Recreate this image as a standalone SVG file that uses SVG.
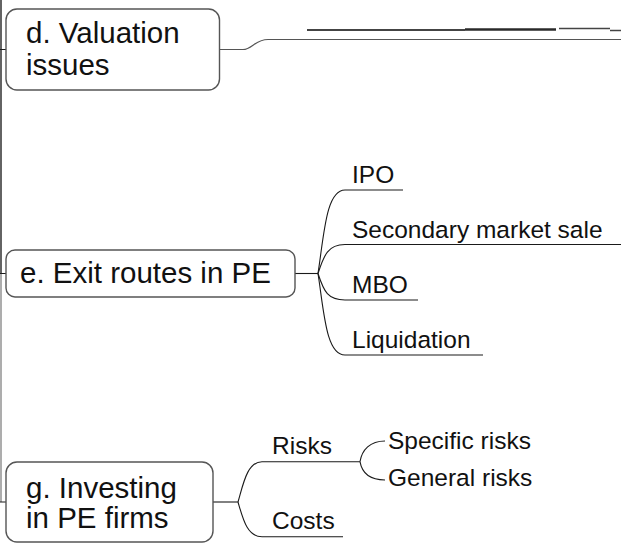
<svg xmlns="http://www.w3.org/2000/svg" width="621" height="550" viewBox="0 0 621 550">
  <style>
    .box { fill: #ffffff; stroke: #555555; stroke-width: 1.4; }
    .main { font-family: "Liberation Sans", Arial, sans-serif; font-size: 29.5px; fill: #111111; }
    .sub { font-family: "Liberation Sans", Arial, sans-serif; font-size: 24.5px; fill: #111111; }
    .link { fill: none; stroke: #1a1a1a; stroke-width: 1.1; }
    .stub { fill: none; stroke: #444444; stroke-width: 2; }
  </style>
  <rect width="621" height="550" fill="#ffffff"/>

  <g id="connectors">
    <!-- trunk on the left edge -->
    <path class="link" d="M1,0 V273" style="stroke:#222222;stroke-width:1.4"/>
    <path class="link" d="M1,273 V502" style="stroke:#8a8a8a;stroke-width:1.4"/>
    <path class="link" d="M0,49.5 H6 M0,273.5 H6 M0,502 H6"/>

    <!-- d. Valuation issues -->
    <path class="link" d="M220,49.5 H243 C252,49.5 255,39.5 268,39.5 H621" style="stroke:#555555"/>
    <path class="stub" d="M307,30 H465"/>
    <path class="stub" d="M465,29.5 H556" style="stroke:#2a2a2a;stroke-width:2.4"/>
    <path class="stub" d="M559,28.5 H610" style="stroke-width:1.5"/>
    <path class="stub" d="M610,30.5 H621" style="stroke-width:1.5"/>

    <!-- e. Exit routes in PE -->
    <path class="link" d="M295,273.5 H318"/>
    <path class="link" d="M318,273.5 C324,235 326,190 345,190 H403"/>
    <path class="link" d="M318,273.5 C324,255 328,244.5 345,244.5 H621"/>
    <path class="link" d="M318,273.5 C324,292 328,300 345,300 H418"/>
    <path class="link" d="M318,273.5 C324,312 326,355 345,355 H483"/>

    <!-- g. Investing in PE firms -->
    <path class="link" d="M213,502 H238"/>
    <path class="link" d="M238,502 C243,485 247,461.7 262,461.7 H360"/>
    <path class="link" d="M238,502 C243,519 247,536.7 262,536.7 H343"/>
    <path class="link" d="M360,461.7 C362,450 370,441 385,441"/>
    <path class="link" d="M360,461.7 C362,473 370,480 385,480"/>
  </g>

  <g id="node-d">
    <rect class="box" x="6" y="9" width="213.5" height="81" rx="11"/>
    <text class="main" x="26" y="43">d. Valuation</text>
    <text class="main" x="26" y="75">issues</text>
  </g>

  <g id="node-e">
    <rect class="box" x="6" y="250" width="289" height="47" rx="9"/>
    <text class="main" x="20" y="283">e. Exit routes in PE</text>
  </g>

  <g id="node-e-ipo"><text class="sub" x="352" y="182.5">IPO</text></g>
  <g id="node-e-secondary"><text class="sub" x="352" y="237.5">Secondary market sale</text></g>
  <g id="node-e-mbo"><text class="sub" x="352" y="292.5">MBO</text></g>
  <g id="node-e-liquidation"><text class="sub" x="352" y="347.5">Liquidation</text></g>

  <g id="node-g">
    <rect class="box" x="6" y="462" width="207" height="80" rx="11"/>
    <text class="main" x="26" y="498">g. Investing</text>
    <text class="main" x="26" y="528">in PE firms</text>
  </g>

  <g id="node-g-risks"><text class="sub" x="272" y="454">Risks</text></g>
  <g id="node-g-costs"><text class="sub" x="272" y="529">Costs</text></g>
  <g id="node-g-specific"><text class="sub" x="388" y="448.5">Specific risks</text></g>
  <g id="node-g-general"><text class="sub" x="388" y="486">General risks</text></g>
</svg>
